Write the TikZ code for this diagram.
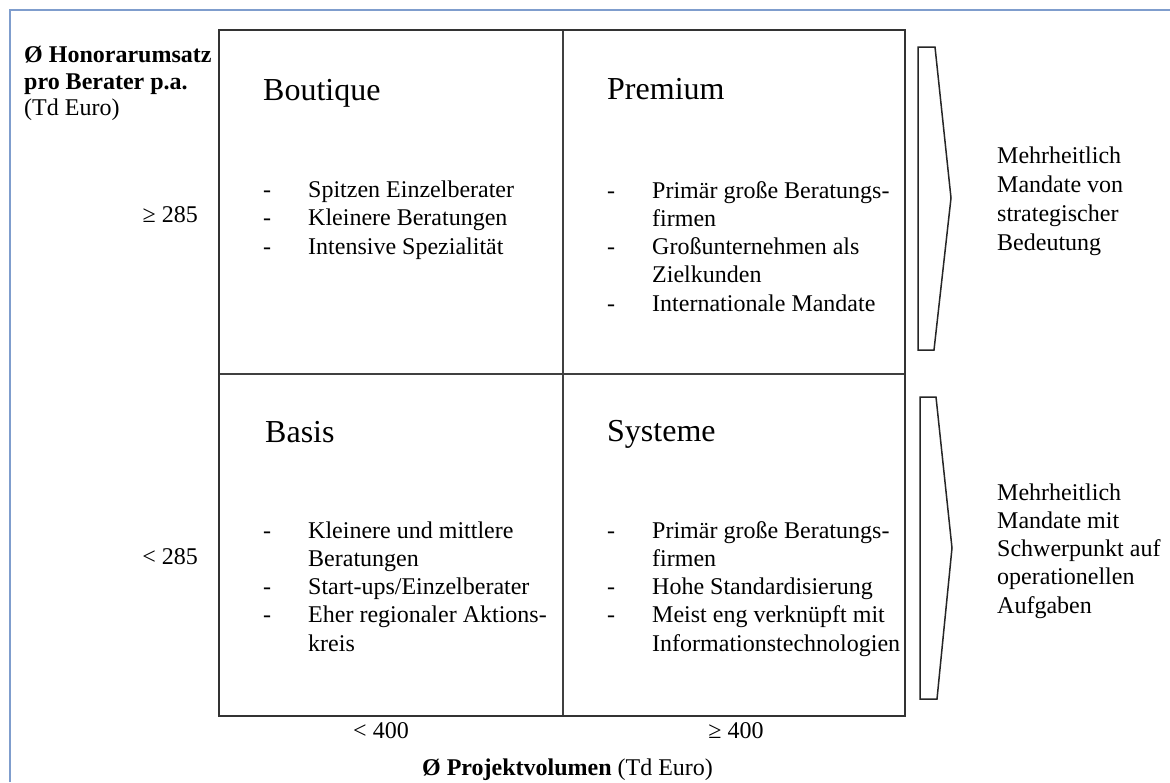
\documentclass[tikz,border=0pt]{standalone}
\usepackage{fontspec}
\setmainfont{Liberation Serif}
\begin{document}
\begin{tikzpicture}[x=1pt,y=-1pt,
  ttl/.style={font=\fontsize{32}{38}\selectfont, anchor=base west, inner sep=0pt},
  txt/.style={font=\fontsize{24}{28}\selectfont, anchor=base west, inner sep=0pt},
  dash/.style={}, 
  axlab/.style={font=\fontsize{24}{28}\selectfont, inner sep=0pt},
  frame/.style={draw=black!80, line width=2pt},
  divider/.style={draw=black!75, line width=1.2pt},
  chev/.style={draw=black!85, line width=1.5pt, line join=miter},
  outer/.style={draw={rgb,255:red,127;green,157;blue,205}, line width=1.6pt}]
\useasboundingbox (0,0) rectangle (1170,782);
\fill[white] (0,0) rectangle (1170,782);
% light blue outer frame (partly cut off)
\draw[outer] (10,782) -- (10,10) -- (1170,10);
% matrix box
\coordinate (tl) at (219,30);
\coordinate (br) at (905,716);
\draw[divider] (563,30) -- (563,716);
\draw[divider] (219,374) -- (905,374);
\draw[frame] (tl) rectangle (br);
% chevrons
\draw[chev] (918,47) -- (935,47) -- (951,198) -- (934,350) -- (918,350) -- cycle;
\draw[chev] (920,397) -- (936,397) -- (952,548) -- (937,699) -- (920,699) -- cycle;
% y axis label
\node[txt, font=\fontsize{24}{28}\selectfont\bfseries] (ya1) at (24,62) {Ø Honorarumsatz};
\node[txt, font=\fontsize{24}{28}\selectfont\bfseries] (ya2) at (24,89) {pro Berater p.a.};
\node[txt] (ya3) at (24,115) {(Td Euro)};
\node[axlab, anchor=base east] (yv1) at (198,222) {≥ 285};
\node[axlab, anchor=base east] (yv2) at (198,564) {< 285};
% x axis
\node[axlab, anchor=base] (xv1) at (381,738) {< 400};
\node[axlab, anchor=base] (xv2) at (736,738) {≥ 400};
\node[axlab, anchor=base] (xa) at (567.5,775) {\textbf{Ø Projektvolumen} (Td Euro)};
% Boutique
\node[ttl] (t1) at (263,100) {Boutique};
\node[txt] (d11) at (263,197) {-};
\node[txt] (l11) at (308,197) {Spitzen Einzelberater};
\node[txt] (d12) at (263,225.5) {-};
\node[txt] (l12) at (308,225.5) {Kleinere Beratungen};
\node[txt] (d13) at (263,254) {-};
\node[txt] (l13) at (308,254) {Intensive Spezialität};
% Premium
\node[ttl] (t2) at (607,99) {Premium};
\node[txt] (d21) at (607,198) {-};
\node[txt] (l21) at (652,198) {Primär große Beratungs-};
\node[txt] (l22) at (652,226.3) {firmen};
\node[txt] (d23) at (607,254.6) {-};
\node[txt] (l23) at (652,254.6) {Großunternehmen als};
\node[txt] (l24) at (652,282.9) {Zielkunden};
\node[txt] (d25) at (607,311.2) {-};
\node[txt] (l25) at (652,311.2) {Internationale Mandate};
% Basis
\node[ttl] (t3) at (265,442) {Basis};
\node[txt] (d31) at (263,538) {-};
\node[txt] (l31) at (308,538) {Kleinere und mittlere};
\node[txt] (l32) at (308,566.3) {Beratungen};
\node[txt] (d33) at (263,594.6) {-};
\node[txt] (l33) at (308,594.6) {Start-ups/Einzelberater};
\node[txt] (d34) at (263,622.9) {-};
\node[txt] (l34) at (308,622.9) {Eher regionaler Aktions-};
\node[txt] (l35) at (308,651.2) {kreis};
% Systeme
\node[ttl] (t4) at (607,441) {Systeme};
\node[txt] (d41) at (607,538) {-};
\node[txt] (l41) at (652,538) {Primär große Beratungs-};
\node[txt] (l42) at (652,566.3) {firmen};
\node[txt] (d43) at (607,594.6) {-};
\node[txt] (l43) at (652,594.6) {Hohe Standardisierung};
\node[txt] (d44) at (607,622.9) {-};
\node[txt] (l44) at (652,622.9) {Meist eng verknüpft mit};
\node[txt] (l45) at (652,651.2) {Informationstechnologien};
% right texts
\node[txt] (r11) at (997,163) {Mehrheitlich};
\node[txt] (r12) at (997,192) {Mandate von};
\node[txt] (r13) at (997,221) {strategischer};
\node[txt] (r14) at (997,250) {Bedeutung};
\node[txt] (r21) at (997,500) {Mehrheitlich};
\node[txt] (r22) at (997,528.3) {Mandate mit};
\node[txt] (r23) at (997,556.6) {Schwerpunkt auf};
\node[txt] (r24) at (997,584.9) {operationellen};
\node[txt] (r25) at (997,613.2) {Aufgaben};
\end{tikzpicture}
\end{document}
